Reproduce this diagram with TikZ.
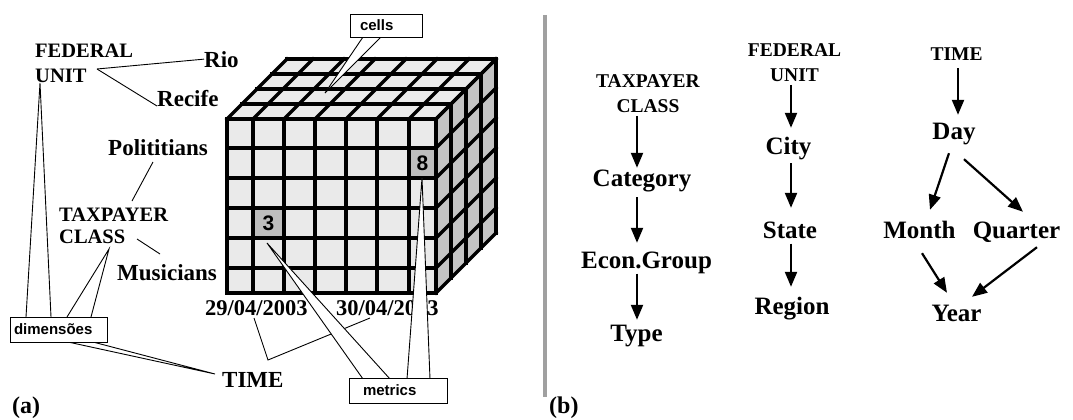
\documentclass[tikz,border=0pt]{standalone}
\usepackage{fontspec}
\setmainfont{Liberation Serif}
\newfontfamily\arialfont{Liberation Sans}
\usetikzlibrary{arrows.meta,calc}
\definecolor{cellgray}{HTML}{EAEAEA}
\definecolor{sidegray}{HTML}{C4C4C4}
\definecolor{hlgray}{HTML}{BEBEBE}
\definecolor{sepgray}{HTML}{A0A0A0}
\begin{document}
\begin{tikzpicture}[x=1pt,y=-1pt,
  lblA/.style={font=\bfseries\fontsize{23}{25}\selectfont, inner sep=0pt},
  datelbl/.style={font=\bfseries\fontsize{22.5}{25}\selectfont, inner sep=0pt},
  hdrA/.style={font=\bfseries\fontsize{20.5}{25}\selectfont, inner sep=0pt, align=left},
  hdrB/.style={font=\bfseries\fontsize{19.5}{25}\selectfont, inner sep=0pt, align=center},
  lvl/.style={font=\bfseries\fontsize{25}{30}\selectfont, inner sep=0pt, text height=17pt, text depth=5pt},
  numlbl/.style={font=\arialfont\bfseries\fontsize{21}{24}\selectfont, inner sep=0pt},
  callbox/.style={draw, line width=0.9pt, fill=white, font=\arialfont\bfseries\fontsize{15}{18}\selectfont, align=left, inner ysep=0pt},
  pointer/.style={line width=0.9pt, line join=miter},
  wedge/.style={draw, line width=0.9pt, fill=white},
  cubeline/.style={line width=3.5pt, line cap=rect},
  arr/.style={line width=2.2pt, -{Triangle[length=15pt,width=12pt]}},
]
\useasboundingbox (0,0) rectangle (1073,420);

% ---------------- cube ----------------
\fill[cellgray] (227,119) rectangle (436,293);
\fill[cellgray] (227,119) -- (436,119) -- (496,59) -- (287,59) -- cycle;
\fill[sidegray] (436,119) -- (496,59) -- (496,233) -- (436,293) -- cycle;
\fill[hlgray] (253,208) rectangle (284,238);
\fill[hlgray] (409,148) rectangle (436,178);
\foreach \x in {227,253,284,315,346,377,409,436} {
  \draw[cubeline] (\x,119) -- (\x,293);
  \draw[cubeline] (\x,119) -- (\x+60,59);
}
\foreach \y in {119,148,178,208,238,268,293} {
  \draw[cubeline] (227,\y) -- (436,\y);
  \draw[cubeline] (436,\y) -- (496,\y-60);
}
\foreach \k in {0,...,4} {
  \draw[cubeline] (227+15*\k,119-15*\k) -- (436+15*\k,119-15*\k);
  \draw[cubeline] (436+15*\k,119-15*\k) -- (436+15*\k,293-15*\k);
}
\node[numlbl] (n3) at (268.5,223.5) {3};
\node[numlbl] (n8) at (422.5,163) {8};

% ---------------- labels (a) ----------------
\node[hdrA, anchor=north west] (fu) at (35,43.5) {FEDERAL\\UNIT};
\node[lblA, anchor=base west] (rio) at (204,67) {Rio};
\node[lblA, anchor=base west] (recife) at (157,106) {Recife};
\node[lblA, anchor=base west] (polit) at (108,155) {Polititians};
\node[hdrA, anchor=north west, font=\bfseries\fontsize{20.5}{22}\selectfont] (tc) at (59,207.4) {TAXPAYER\\CLASS};
\node[lblA, anchor=base west] (mus) at (117,280) {Musicians};
\node[datelbl, anchor=base west] (d1) at (205,315) {29/04/2003};
\node[datelbl, anchor=base west] (d2) at (336,315) {30/04/2003};
\node[lblA, anchor=base west] (timea) at (222,387) {TIME};
\node[lblA, anchor=base west, font=\bfseries\fontsize{24}{26}\selectfont] (pa) at (12,413) {(a)};

% pointer lines
\coordinate (fuj) at (97,69);
\draw[pointer] (fuj) -- (rio.west);
\draw[pointer] (fuj) -- (recife.base west);
\coordinate (pol1) at (153,162);
\coordinate (pol2) at (132,201);
\draw[pointer] (pol1) -- (pol2);
\coordinate (mu1) at (137,239);
\coordinate (mu2) at (160,254);
\draw[pointer] (mu1) -- (mu2);

% callout wedges of "dimensoes"
\coordinate (dA1) at (26,317);  \coordinate (dAt) at (40,83);   \coordinate (dA2) at (51,317);
\coordinate (dB1) at (67,317);  \coordinate (dBt) at (109,249); \coordinate (dB2) at (91,317);
\coordinate (dC1) at (68,342);  \coordinate (dCt) at (215,374); \coordinate (dC2) at (93,342);
\draw[pointer] (dA1) -- (dAt) -- (dA2);
\draw[pointer] (dB1) -- (dBt) -- (dB2);
\draw[pointer] (dC1) -- (dCt) -- (dC2);
% date V
\coordinate (tv1) at (254,318); \coordinate (tvt) at (268,360); \coordinate (tv2) at (370,318);
\draw[pointer] (tv1) -- (tvt) -- (tv2);

% cells wedge
\coordinate (cw1) at (363,37); \coordinate (cwt) at (325,93); \coordinate (cw2) at (381,37);
\filldraw[wedge] (cw1) -- (cwt) -- (cw2);
% metrics wedges
\coordinate (m3t) at (267,243); \coordinate (m31) at (363,379); \coordinate (m32) at (390,379);
\filldraw[wedge] (m31) -- (m3t) -- (m32);
\coordinate (m8t) at (422,178); \coordinate (m81) at (407,379); \coordinate (m82) at (430,379);
\filldraw[wedge] (m81) -- (m8t) -- (m82);

% boxes
\node[callbox, minimum height=23pt, inner xsep=10pt, text width=52pt] (cells) at (386,25.5) {cells};
\node[callbox, minimum height=25pt, inner xsep=4pt, text width=89pt] (dims) at (58.5,329.5) {dimensões};
\node[callbox, minimum height=25pt, inner xsep=14pt, text width=70pt] (metrics) at (398,390.5) {metrics};

% separator
\draw[sepgray, line width=4pt] (545,15) -- (545,397);

% ---------------- part (b) ----------------
\node[hdrB, anchor=north] (tcb) at (648,74.5) {TAXPAYER\\CLASS};
\node[lvl, anchor=base] (cat) at (642,186) {Category};
\node[lvl, anchor=base] (econ) at (646.5,268.5) {Econ.Group};
\node[lvl, anchor=base] (type) at (636.5,341.5) {Type};

\node[hdrB, anchor=north] (fub) at (794.5,43.5) {FEDERAL\\UNIT};
\node[lvl, anchor=base] (city) at (788.5,154.5) {City};
\node[lvl, anchor=base] (state) at (790,238.5) {State};
\node[lvl, anchor=base] (region) at (792,314.5) {Region};

\node[hdrB, anchor=base] (timeb) at (956.5,60) {TIME};
\node[lvl, anchor=base] (day) at (954,139.5) {Day};
\node[lvl, anchor=base] (month) at (919.5,238.5) {Month};
\node[lvl, anchor=base] (quarter) at (1016.5,238.5) {Quarter};
\node[lvl, anchor=base] (year) at (956.5,321.5) {Year};

\node[lblA, anchor=base west, font=\bfseries\fontsize{24}{26}\selectfont] (pb) at (549,413) {(b)};

\coordinate (cx1) at (637,0);
\coordinate (cx2) at (791,0);
\coordinate (cx3) at (958,0);
\draw[arr, shorten <=3pt, shorten >=1pt] (tcb.south -| cx1) -- (cat.north -| cx1);
\draw[arr, shorten <=6pt, shorten >=8.5pt] (cat.south -| cx1) -- (econ.north -| cx1);
\draw[arr, shorten >=4.5pt] (econ.south -| cx1) -- (type.north -| cx1);

\draw[arr, shorten <=3pt, shorten >=9.5pt] (fub.south -| cx2) -- (city.north -| cx2);
\draw[arr, shorten <=3.5pt, shorten >=13.5pt] (city.south -| cx2) -- (state.north -| cx2);
\draw[arr, shorten >=10.5pt] (state.south -| cx2) -- (region.north -| cx2);

\draw[arr, shorten <=8pt, shorten >=7.5pt] (timeb.south -| cx3) -- (day.north -| cx3);
\draw[arr] ([xshift=-5pt,yshift=-8.5pt]day.south) -- ([xshift=10.5pt,yshift=11.5pt]month.north);
\draw[arr] ([xshift=10pt,yshift=-14.5pt]day.south) -- ([xshift=6.5pt,yshift=9.5pt]quarter.north);
\draw[arr] ([xshift=2.5pt,yshift=-9.5pt]month.south) -- ([xshift=-9.5pt,yshift=11.5pt]year.north);
\draw[arr] ([xshift=20.5pt,yshift=-3.5pt]quarter.south) -- ([xshift=15.5pt,yshift=7.5pt]year.north);
\end{tikzpicture}
\end{document}
